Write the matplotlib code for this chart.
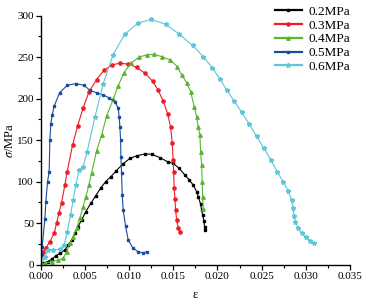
import numpy as np
import matplotlib
matplotlib.use("Agg")
import matplotlib.pyplot as plt
from matplotlib.ticker import MultipleLocator

plt.rcParams['font.family'] = ['Liberation Serif', 'DejaVu Serif']
plt.rcParams['mathtext.fontset'] = 'stix'

# 0.2MPa
x02 = [0, 0.00026, 0.00076, 0.00121, 0.00166, 0.00215, 0.00272, 0.00309, 0.00348, 0.00385,
       0.00422, 0.00461, 0.0051, 0.00566, 0.0062, 0.00676, 0.00733, 0.00793, 0.00853, 0.00925,
       0.01008, 0.01084, 0.01178, 0.01254, 0.01348, 0.01435, 0.01498, 0.01566, 0.01631, 0.0168,
       0.01725, 0.01764, 0.01782, 0.01809, 0.0182, 0.01832, 0.01846, 0.01854, 0.01861]
y02 = [0, 1.7, 3.6, 6.5, 10.5, 13.7, 17.7, 23.7, 29.8, 37.8,
       45.8, 53.9, 64, 74, 82.8, 92, 100, 106, 113, 121,
       128, 131, 133.4, 133, 129, 124, 122, 116, 108, 102,
       96, 88, 82, 73, 66, 60, 53, 45.8, 42]

# 0.3MPa
x03 = [0, 0.00026, 0.00053, 0.00102, 0.00151, 0.00178, 0.00204, 0.00234, 0.00272, 0.00298,
       0.00359, 0.00416, 0.00479, 0.00547, 0.00631, 0.00714, 0.00804, 0.00895, 0.00989, 0.01084,
       0.01178, 0.01265, 0.01329, 0.01385, 0.01435, 0.01469, 0.01487, 0.01498, 0.01503, 0.0151,
       0.01518, 0.01526, 0.01537, 0.01555, 0.01578]
y03 = [0, 15.7, 19.7, 27.7, 37.8, 50, 62, 74, 96, 112,
       144, 167, 189, 208.5, 223, 234, 240.5, 242.7, 241.5, 237.6,
       230.6, 221, 210, 197, 182, 165.5, 147, 126, 112, 92,
       79, 66, 54, 44.6, 39.8]

# 0.4MPa
x04 = [0, 0.00045, 0.00121, 0.00196, 0.00253, 0.00291, 0.00328, 0.00366, 0.00404, 0.00442,
       0.00479, 0.0051, 0.00544, 0.00574, 0.00631, 0.00688, 0.00744, 0.00819, 0.00876, 0.0094,
       0.01019, 0.01113, 0.01197, 0.01283, 0.01367, 0.01461, 0.01544, 0.01594, 0.0165, 0.01696,
       0.01736, 0.01764, 0.01782, 0.01801, 0.01809, 0.0182, 0.01827, 0.01832, 0.01838]
y04 = [0, 1.7, 3.6, 5.7, 7.7, 15.7, 25.8, 33.7, 43.9, 56,
       70, 82, 96, 110, 137, 156, 179, 199, 215.5, 231,
       242.7, 250, 252.7, 253.2, 250.6, 246.7, 238.6, 228.6, 219.3, 208.5,
       190.4, 178.3, 166, 156, 136, 120, 100, 82, 67]

# 0.5MPa
x05 = [0, 0.00008, 0.00015, 0.00045, 0.00057, 0.00076, 0.00094, 0.00102, 0.00113, 0.00128,
       0.00151, 0.00212, 0.00298, 0.00393, 0.0049, 0.00555, 0.00631, 0.00706, 0.0077, 0.00838,
       0.00876, 0.00887, 0.00895, 0.00903, 0.00906, 0.00914, 0.00921, 0.00932, 0.0096, 0.00989,
       0.01039, 0.0110, 0.01152, 0.01197]
y05 = [0, 11.7, 21.7, 54.7, 76, 100, 112, 150, 170, 180,
       191, 207, 216, 218, 216, 210, 207, 204.5, 201, 196.5,
       188.5, 178, 166, 150, 130, 110, 84, 66, 46, 30,
       20.5, 15.7, 14.5, 15.3]

# 0.6MPa
x06 = [0, 0.00045, 0.00083, 0.00139, 0.00215, 0.00264, 0.00298, 0.00336, 0.00366, 0.00396,
       0.00434, 0.00479, 0.00524, 0.00612, 0.00706, 0.00819, 0.00951, 0.0110, 0.01246, 0.01412,
       0.01566, 0.01718, 0.01838, 0.0194, 0.02027, 0.02103, 0.02186, 0.02273, 0.02359, 0.02443,
       0.02526, 0.02605, 0.02676, 0.02744, 0.02801, 0.02839, 0.02858, 0.02866, 0.0288, 0.02914,
       0.02956, 0.03001, 0.0305, 0.03092]
y06 = [0, 9, 17.7, 17.7, 18.5, 23.7, 39, 60, 78, 96,
       114, 118, 136, 177.5, 218, 253, 277.6, 291, 295.3, 289.7,
       277.6, 264, 250.6, 237.4, 223.8, 210.5, 197.6, 183.6, 169.2, 154.6,
       140, 126, 112, 100, 88.8, 78, 68, 58.7, 51.8, 43.9,
       37.8, 33, 28.9, 25.8]

labels = ['0.2MPa', '0.3MPa', '0.4MPa', '0.5MPa', '0.6MPa']
colors = ['#000000', '#ee1c24', '#5cb531', '#1c4c9c', '#5ec6d6']
markers = ['s', 'o', '^', 's', '*']
msizes = [2.0, 2.3, 2.5, 2.0, 3.4]

fig = plt.figure(figsize=(3.68, 3.02), dpi=100)
ax = fig.add_axes([0.111, 0.1235, 0.840, 0.825])

series = [(x02, y02), (x03, y03), (x04, y04), (x05, y05), (x06, y06)]
for (xs, ys), lab, c, m, ms in zip(series, labels, colors, markers, msizes):
    ax.plot(xs, ys, color=c, marker=m, markersize=ms, linewidth=0.8, label=lab)

ax.set_xlim(0, 0.035)
ax.set_ylim(0, 300)
ax.xaxis.set_major_locator(MultipleLocator(0.005))
ax.xaxis.set_minor_locator(MultipleLocator(0.0025))
ax.yaxis.set_major_locator(MultipleLocator(50))
ax.yaxis.set_minor_locator(MultipleLocator(25))
ax.xaxis.set_major_formatter(plt.FormatStrFormatter('%.3f'))
ax.spines['top'].set_visible(False)
ax.spines['right'].set_visible(False)
ax.spines['left'].set_linewidth(1.0)
ax.spines['bottom'].set_linewidth(1.0)
ax.tick_params(which='major', direction='out', length=3.5, width=0.9, labelsize=8, pad=1.5)
ax.tick_params(which='minor', direction='out', length=2, width=0.8)

ax.set_xlabel('ε', fontsize=9, labelpad=6)
ax.set_ylabel(r'$\sigma$/MPa', fontsize=9, labelpad=1)

leg = ax.legend(loc='upper right', bbox_to_anchor=(1.0, 1.04), frameon=False, fontsize=9.5,
                handlelength=2.1, handletextpad=0.45, labelspacing=0.12, borderaxespad=0,
                borderpad=0)
for h in leg.get_lines():
    h.set_linewidth(1.6)

fig.savefig('out.png', dpi=100)
